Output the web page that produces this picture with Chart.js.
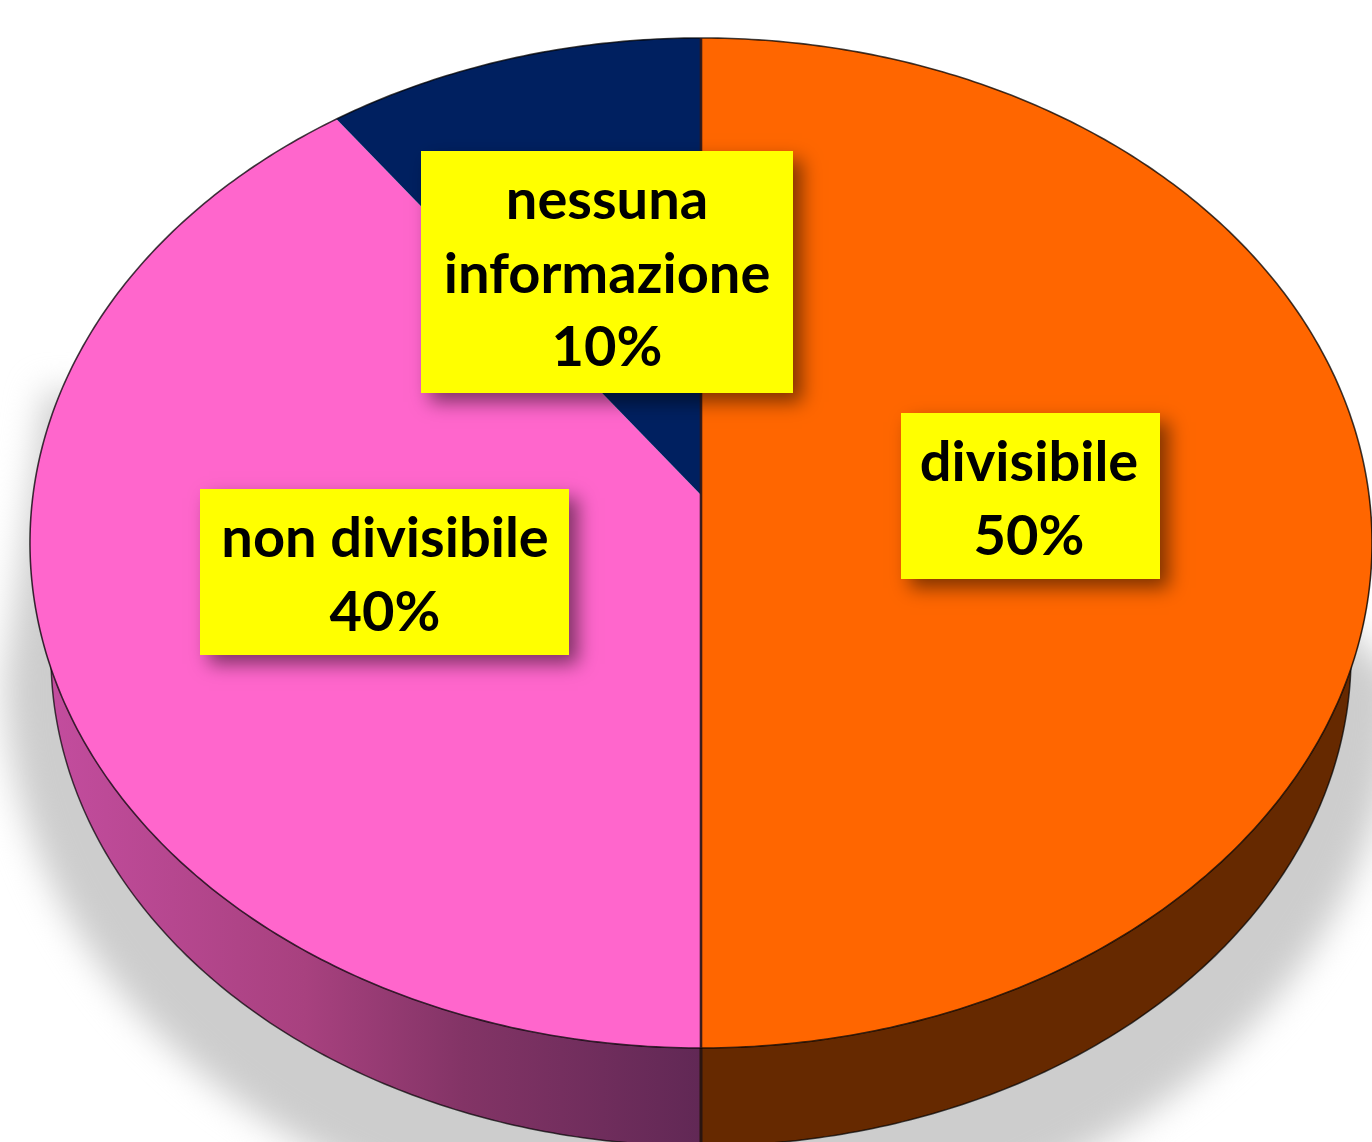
<!DOCTYPE html>
<html lang="it">
<head>
  <meta charset="UTF-8" />
  <title>Torta 3D</title>
  <style>
    html, body { margin: 0; padding: 0; background: #fff; overflow: hidden; }
    canvas { display: block; }
  </style>
  <script src="https://cdn.jsdelivr.net/npm/chart.js"></script>
</head>
<body>
  <canvas id="pie" width="1372" height="1142"></canvas>

  <script>
    // data
    const categories = ['divisibile', 'non divisibile', 'nessuna informazione'];
    const values = [50, 40, 10];
    const sliceColors = ['#ff6600', '#ff66cc', '#002060'];
    const labelLines = [['divisibile'], ['non divisibile'], ['nessuna', 'informazione']];

    // label boxes: x, y, w, h, then the first baseline
    const labelBoxes = [
      { x: 901, y: 413, w: 259, h: 166, base: 481, textX: 1029 },
      { x: 200, y: 489, w: 369, h: 166, base: 557, textX: 385 },
      { x: 421, y: 151, w: 372, h: 242, base: 219, textX: 607 }
    ];
    const lineStep = 73.5;

    // perspective of the top face: the disc centre lands at y=495, the rim spans y 38..1048
    const view = { cx: 701, cy: 495, a: 668, b: 453.4, k: -0.09505 };
    // bottom face is the top face a bit smaller and pushed down
    const bottom = { sx: 0.9687, sy: 0.97, cy0: 543, cy1: 656 };

    function topPoint(angle) {
      const u = Math.cos(angle), v = Math.sin(angle);
      const d = 1 + view.k * v;
      return [view.cx + view.a * u / d, (view.cy + view.b * v) / d];
    }

    function bottomPoint(angle) {
      const p = topPoint(angle);
      return [view.cx + (p[0] - view.cx) * bottom.sx, bottom.cy1 + (p[1] - bottom.cy0) * bottom.sy];
    }

    function rim(ctx, from, to, pointAt) {
      const steps = Math.max(2, Math.ceil(Math.abs(to - from) * 90));
      for (let i = 0; i <= steps; i++) {
        const p = pointAt(from + (to - from) * i / steps);
        ctx.lineTo(p[0], p[1]);
      }
    }

    function drawShadow(ctx) {
      ctx.save();
      ctx.filter = 'blur(17px)';
      ctx.fillStyle = '#cdcdcd';
      ctx.beginPath();
      ctx.ellipse(701, 680, 696, 565, 0, 0, Math.PI);
      ctx.lineTo(45, 390);
      ctx.lineTo(120, 400);
      ctx.lineTo(701, 500);
      ctx.lineTo(1320, 600);
      ctx.lineTo(1397, 680);
      ctx.closePath();
      ctx.fill();
      ctx.restore();
    }

    function wallFill(ctx, index) {
      if (index === 0) return '#662900';
      const g = ctx.createLinearGradient(40, 0, 701, 0);
      g.addColorStop(0, '#c44d9f');
      g.addColorStop(0.4, '#a8417f');
      g.addColorStop(0.64, '#833466');
      g.addColorStop(1, '#612855');
      return g;
    }

    const pie3d = {
      id: 'pie3d',
      beforeDatasetsDraw(chart) {
        const ctx = chart.ctx;
        const arcs = chart.getDatasetMeta(0).data;
        drawShadow(ctx);

        // side walls, only the two front slices show one
        arcs.forEach((arc, i) => {
          const from = Math.max(arc.startAngle, 0);
          const to = Math.min(arc.endAngle, Math.PI);
          if (to <= from) return;
          ctx.beginPath();
          rim(ctx, from, to, topPoint);
          rim(ctx, to, from, bottomPoint);
          ctx.closePath();
          ctx.fillStyle = wallFill(ctx, i);
          ctx.fill();
          ctx.beginPath();
          rim(ctx, from, to, bottomPoint);
          ctx.strokeStyle = 'rgba(0,0,0,0.7)';
          ctx.lineWidth = 1.5;
          ctx.stroke();
        });

        // edge between the two walls at the front
        const front = topPoint(Math.PI / 2);
        const frontLow = bottomPoint(Math.PI / 2);
        ctx.beginPath();
        ctx.moveTo(front[0], front[1]);
        ctx.lineTo(frontLow[0], frontLow[1]);
        ctx.strokeStyle = '#2a1510';
        ctx.lineWidth = 3;
        ctx.stroke();

        // top face
        arcs.forEach((arc) => {
          ctx.beginPath();
          ctx.moveTo(view.cx, view.cy);
          rim(ctx, arc.startAngle, arc.endAngle, topPoint);
          ctx.closePath();
          ctx.fillStyle = arc.options.backgroundColor;
          ctx.fill();
        });

        // rim line
        ctx.beginPath();
        rim(ctx, 0, Math.PI * 2, topPoint);
        ctx.strokeStyle = 'rgba(0,0,0,0.75)';
        ctx.lineWidth = 1.6;
        ctx.stroke();

        // divider between orange and the rest
        const back = topPoint(-Math.PI / 2);
        ctx.beginPath();
        ctx.moveTo(back[0], back[1]);
        ctx.lineTo(front[0], front[1]);
        ctx.strokeStyle = 'rgba(50,25,25,0.95)';
        ctx.lineWidth = 2.6;
        ctx.stroke();

        return false; // the flat arcs are replaced by the drawing above
      },
      afterDraw(chart) {
        const ctx = chart.ctx;
        labelBoxes.forEach((box, i) => {
          ctx.save();
          ctx.shadowColor = 'rgba(0,0,0,0.5)';
          ctx.shadowBlur = 18;
          ctx.shadowOffsetX = 9;
          ctx.shadowOffsetY = 9;
          ctx.fillStyle = '#ffff00';
          ctx.fillRect(box.x, box.y, box.w, box.h);
          ctx.restore();

          const lines = labelLines[i].concat(chart.data.datasets[0].data[i] + '%');
          ctx.fillStyle = '#000';
          ctx.font = 'bold 56px Lato';
          ctx.textAlign = 'center';
          ctx.textBaseline = 'alphabetic';
          lines.forEach((line, n) => {
            ctx.fillText(line, box.textX, box.base + n * lineStep);
          });
        });
      }
    };

    new Chart(document.getElementById('pie').getContext('2d'), {
      type: 'pie',
      data: {
        labels: categories,
        datasets: [{ data: values, backgroundColor: sliceColors, borderWidth: 0 }]
      },
      options: {
        responsive: false,
        animation: false,
        events: [],
        plugins: { legend: { display: false }, tooltip: { enabled: false } }
      },
      plugins: [pie3d]
    });
  </script>
</body>
</html>
